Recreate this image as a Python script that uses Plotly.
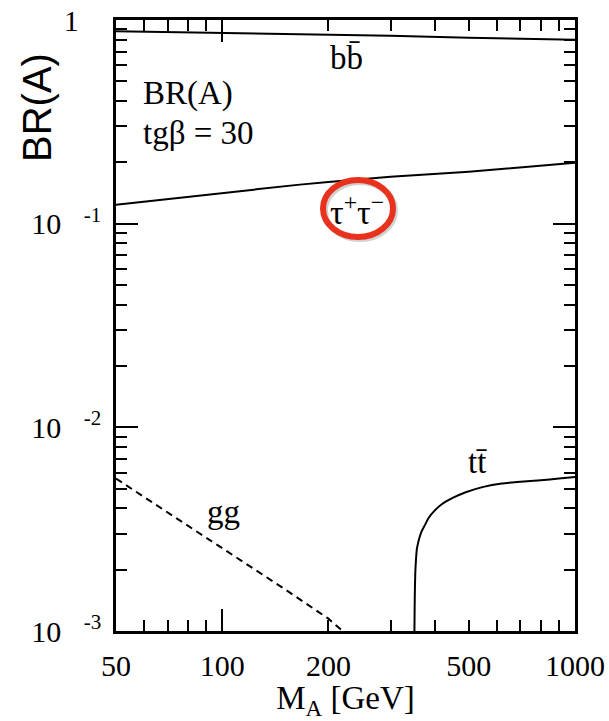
import plotly.graph_objects as go
import math

# ---------------- data ----------------
bb_x = [50, 100, 200, 300, 500, 700, 1000]
bb_y = [0.880, 0.866, 0.851, 0.838, 0.818, 0.810, 0.800]

tau_x = [50, 100, 166, 200, 300, 500, 700, 1000]
tau_y = [0.124, 0.142, 0.1555, 0.160, 0.170, 0.180, 0.189, 0.199]

gg_x = [50, 100, 150, 200, 218]
gg_y = [0.0056, 0.00256, 0.00161, 0.00115, 0.00101]

tt_x = [350.3, 350.8, 351.5, 352.5, 354, 356, 359, 363, 368, 375, 385, 400,
        420, 450, 490, 550, 620, 700, 800, 900, 1000]
tt_y = [0.0008, 0.0011, 0.0015, 0.0019, 0.0022, 0.0025, 0.0027, 0.0029, 0.0031, 0.0033,
        0.0036, 0.0039, 0.0042, 0.0045, 0.0048, 0.0051, 0.0053, 0.0054, 0.0055, 0.0056, 0.0057]

x_tickvals = [50, 100, 200, 500, 1000]
x_ticktext = ["50", "100", "200", "500", "1000"]
x_major = [100, 1000]
x_minor = [60, 70, 80, 90, 200, 300, 400, 500, 600, 700, 800, 900]

NB = "\u00a0"
y_tickvals = [0.001, 0.01, 0.1, 1]
y_ticktext = ["10   <sup>-3</sup>", "10   <sup>-2</sup>", "10   <sup>-1</sup>", "1" + NB * 3]
y_minor = [m * 10 ** e for e in (-3, -2, -1) for m in range(2, 10)]

# ---------------- figure ----------------
W, H = 609, 721
L, R, T, B = 116, 34, 20, 90
pw, ph = W - L - R, H - T - B


def px(xpix):
    return (xpix - L) / pw


def py(ypix):
    return (H - B - ypix) / ph


SERIF = "Liberation Serif, Times New Roman, serif"
SANS = "Liberation Sans, Arial, sans-serif"
line_style = dict(color="black", width=2)

fig = go.Figure()
fig.add_trace(go.Scatter(x=bb_x, y=bb_y, mode="lines", line=line_style, name="bb"))
fig.add_trace(go.Scatter(x=tau_x, y=tau_y, mode="lines", line=line_style, name="tautau"))
fig.add_trace(go.Scatter(x=gg_x, y=gg_y, mode="lines",
                         line=dict(color="black", width=2, dash="7px,5px"), name="gg"))
fig.add_trace(go.Scatter(x=tt_x, y=tt_y, mode="lines",
                         line=dict(color="black", width=2, shape="spline", smoothing=0.6),
                         name="tt"))
# invisible trace to activate the tick overlay axis
fig.add_trace(go.Scatter(x=[50, 1000], y=[0.001, 1], mode="markers",
                         marker=dict(opacity=0), xaxis="x2", hoverinfo="skip", showlegend=False))

xr = [math.log10(50), math.log10(1000)]
yr = [-3, 0]

fig.update_layout(
    width=W, height=H,
    margin=dict(l=L, r=R, t=T, b=B, pad=0, autoexpand=False),
    paper_bgcolor="white", plot_bgcolor="white",
    showlegend=False,
    font=dict(family=SERIF, color="black"),
    xaxis=dict(
        type="log", range=xr, showgrid=False, zeroline=False, automargin=False,
        tickmode="array", tickvals=x_tickvals, ticktext=x_ticktext,
        ticks="", showline=True, linecolor="black", linewidth=2.5, mirror=True,
        tickfont=dict(family=SERIF, size=30, color="black"),
        ticklabelstandoff=6,
        title=dict(text="M<sub>A</sub> [GeV]", font=dict(family=SERIF, size=33, color="black"),
                   standoff=0),
    ),
    xaxis2=dict(
        type="log", range=xr, overlaying="x", anchor="y", side="bottom", automargin=False,
        showgrid=False, zeroline=False, showticklabels=False,
        tickmode="array", tickvals=x_major, ticks="inside", ticklen=22, tickwidth=2,
        tickcolor="black", showline=True, linecolor="black", linewidth=2.5, mirror="ticks",
        minor=dict(tickmode="array", tickvals=x_minor, ticks="inside", ticklen=11,
                   tickwidth=2, tickcolor="black", showgrid=False),
    ),
    yaxis=dict(
        type="log", range=yr, showgrid=False, zeroline=False, automargin=False,
        tickmode="array", tickvals=y_tickvals, ticktext=y_ticktext,
        ticks="inside", ticklen=22, tickwidth=2, tickcolor="black",
        showline=True, linecolor="black", linewidth=2.5, mirror="ticks",
        tickfont=dict(family=SERIF, size=30, color="black"),
        ticklabelstandoff=6,
        minor=dict(tickmode="array", tickvals=y_minor, ticks="inside", ticklen=11,
                   tickwidth=2, tickcolor="black", showgrid=False),
    ),
)

ann_font = dict(family=SERIF, size=33, color="black")
annotations = [
    dict(text="BR(A)", x=px(37), y=py(108), textangle=-90,
         font=dict(family=SANS, size=40, color="black")),
    dict(text="BR(A)", x=px(141), y=py(93), xanchor="left", font=ann_font),
    dict(text="tgβ = 30", x=px(141), y=py(133), xanchor="left", font=ann_font),
    dict(text="bb\u0304", x=px(346), y=py(58), font=ann_font),
    dict(text="τ<sup>+</sup>τ<sup>−</sup>", x=px(357), y=py(210), font=dict(family=SERIF, size=34, color="black")),
    dict(text="gg", x=px(223), y=py(512), font=ann_font),
    dict(text="tt\u0304", x=px(478), y=py(462), font=ann_font),
]
for a in annotations:
    a.update(xref="paper", yref="paper", showarrow=False)
    if "xanchor" not in a:
        a["xanchor"] = "center"
    a["yanchor"] = "middle"
fig.update_layout(annotations=annotations)

# red highlight ellipse around the tau label (with a faint shadow)
fig.add_shape(type="circle", xref="paper", yref="paper",
              x0=px(325), x1=px(395), y0=py(239), y1=py(182),
              line=dict(color="rgba(0,0,0,0.18)", width=6))
fig.add_shape(type="circle", xref="paper", yref="paper",
              x0=px(323), x1=px(393), y0=py(237), y1=py(180),
              line=dict(color="#E8321E", width=6))

fig.write_html("out.html")
